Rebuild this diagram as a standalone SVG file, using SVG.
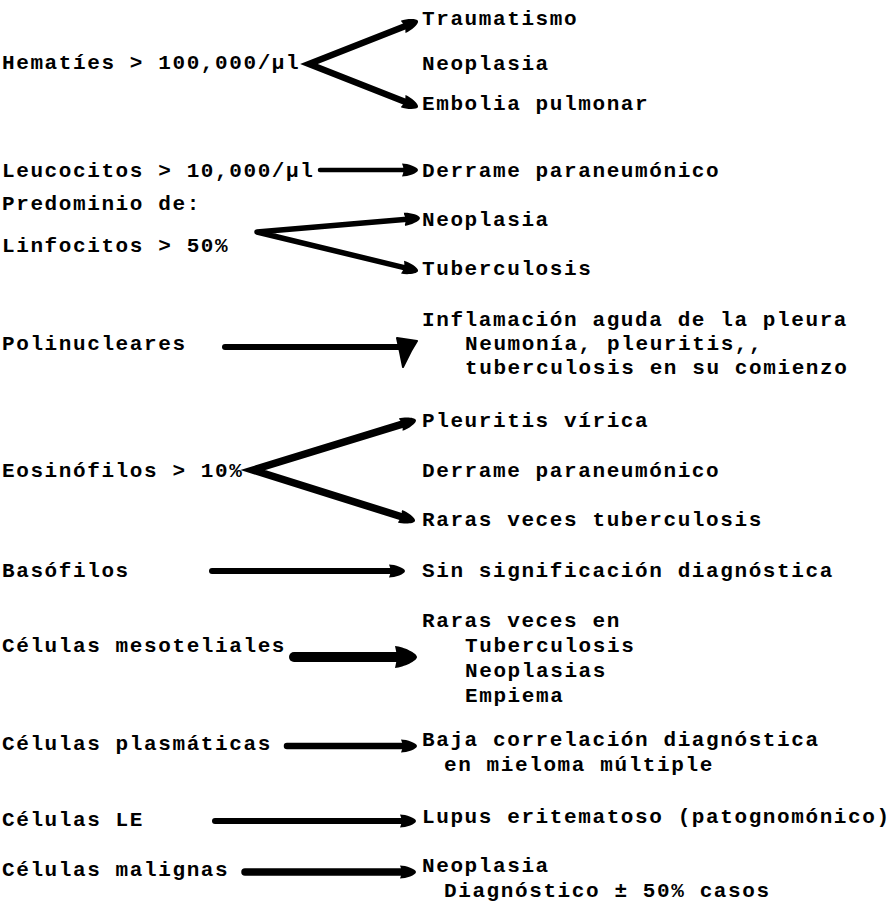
<svg xmlns="http://www.w3.org/2000/svg" width="891" height="907" viewBox="0 0 891 907">
<style>
.t{font-family:"Liberation Mono","DejaVu Sans Mono",monospace;font-weight:bold;font-size:21px;letter-spacing:1.6px;fill:#000}
.c{stroke:#000;fill:none;stroke-linecap:round;stroke-linejoin:round}
.h{fill:#000;stroke:#000;stroke-linejoin:round;stroke-width:2}
</style>
<defs>
<marker id="ah" viewBox="0 0 16 16" refX="6" refY="8" markerWidth="16" markerHeight="16" markerUnits="userSpaceOnUse" orient="auto-start-reverse">
<path d="M0,1.5 C6,1.5 16,5 16,8 C16,11 6,14.5 0,14.5 C2,10 2,6 0,1.5 Z" fill="#000"/>
</marker>
<marker id="ahl" viewBox="0 0 22 24" refX="8" refY="12" markerWidth="22" markerHeight="24" markerUnits="userSpaceOnUse" orient="auto">
<path d="M0,1 C9,2 22,8 22,12 C22,16 9,22 0,23 C2,16 2,8 0,1 Z" fill="#000"/>
</marker>
</defs>

<g id="connectors">
<path class="c" d="M408.7,24.7 L309,64 L408.7,103.3" stroke-width="6.5" style="stroke-linejoin:miter" marker-start="url(#ah)" marker-end="url(#ah)"/>
<path class="c" d="M320,170 L408,170" stroke-width="4.5" marker-end="url(#ah)"/>
<path class="c" d="M410,218.9 L257,232 L408.3,268.6" stroke-width="5.5" marker-start="url(#ah)" marker-end="url(#ah)"/>
<path class="c" d="M225,347 L402,347" stroke-width="6"/>
<path class="h" d="M397,338 L417,341 L411,351 L403,367 L400,352 Z"/>
<path class="c" d="M406.4,422.9 L253,470 L405.5,518" stroke-width="7.5" style="stroke-linejoin:miter" marker-start="url(#ah)" marker-end="url(#ah)"/>
<path class="c" d="M212,571 L395,571" stroke-width="6" marker-end="url(#ah)"/>
<path class="c" d="M294,657 L403,657" stroke-width="10" marker-end="url(#ahl)"/>
<path class="c" d="M287,746 L407,746" stroke-width="6.5" marker-end="url(#ah)"/>
<path class="c" d="M215,821 L406,821" stroke-width="6" marker-end="url(#ah)"/>
<path class="c" d="M245,872 L406,872" stroke-width="7.5" marker-end="url(#ah)"/>
</g>

<g id="n-hematies"><text class="t" x="2" y="69">Hematíes &gt; 100,000/µl</text></g>
<g id="n-leucocitos"><text class="t" x="2" y="177">Leucocitos &gt; 10,000/µl</text></g>
<g id="n-linfocitos"><text class="t" x="2" y="210">Predominio de:</text><text class="t" x="2" y="252">Linfocitos &gt; 50%</text></g>
<g id="n-polinucleares"><text class="t" x="2" y="350">Polinucleares</text></g>
<g id="n-eosinofilos"><text class="t" x="2" y="477">Eosinófilos &gt; 10%</text></g>
<g id="n-basofilos"><text class="t" x="2" y="577">Basófilos</text></g>
<g id="n-mesoteliales"><text class="t" x="2" y="652">Células mesoteliales</text></g>
<g id="n-plasmaticas"><text class="t" x="2" y="750">Células plasmáticas</text></g>
<g id="n-le"><text class="t" x="2" y="826">Células LE</text></g>
<g id="n-malignas"><text class="t" x="2" y="876">Células malignas</text></g>

<g id="r-traumatismo"><text class="t" x="422" y="25">Traumatismo</text></g>
<g id="r-neoplasia1"><text class="t" x="422" y="70">Neoplasia</text></g>
<g id="r-embolia"><text class="t" x="422" y="110">Embolia pulmonar</text></g>
<g id="r-derrame1"><text class="t" x="422" y="177">Derrame paraneumónico</text></g>
<g id="r-neoplasia2"><text class="t" x="422" y="226">Neoplasia</text></g>
<g id="r-tuberculosis"><text class="t" x="422" y="275">Tuberculosis</text></g>
<g id="r-inflamacion"><text class="t" x="422" y="326">Inflamación aguda de la pleura</text><text class="t" x="465" y="350">Neumonía, pleuritis,,</text><text class="t" x="465" y="374">tuberculosis en su comienzo</text></g>
<g id="r-pleuritis"><text class="t" x="422" y="427">Pleuritis vírica</text></g>
<g id="r-derrame2"><text class="t" x="422" y="477">Derrame paraneumónico</text></g>
<g id="r-raras1"><text class="t" x="422" y="526">Raras veces tuberculosis</text></g>
<g id="r-sin"><text class="t" x="422" y="577">Sin significación diagnóstica</text></g>
<g id="r-raras2"><text class="t" x="422" y="627">Raras veces en</text><text class="t" x="465" y="652">Tuberculosis</text><text class="t" x="465" y="677">Neoplasias</text><text class="t" x="465" y="702">Empiema</text></g>
<g id="r-baja"><text class="t" x="422" y="746">Baja correlación diagnóstica</text><text class="t" x="444" y="771">en mieloma múltiple</text></g>
<g id="r-lupus"><text class="t" x="422" y="823">Lupus eritematoso (patognomónico)</text></g>
<g id="r-neoplasia3"><text class="t" x="422" y="872">Neoplasia</text><text class="t" x="444" y="897">Diagnóstico ± 50% casos</text></g>
</svg>
